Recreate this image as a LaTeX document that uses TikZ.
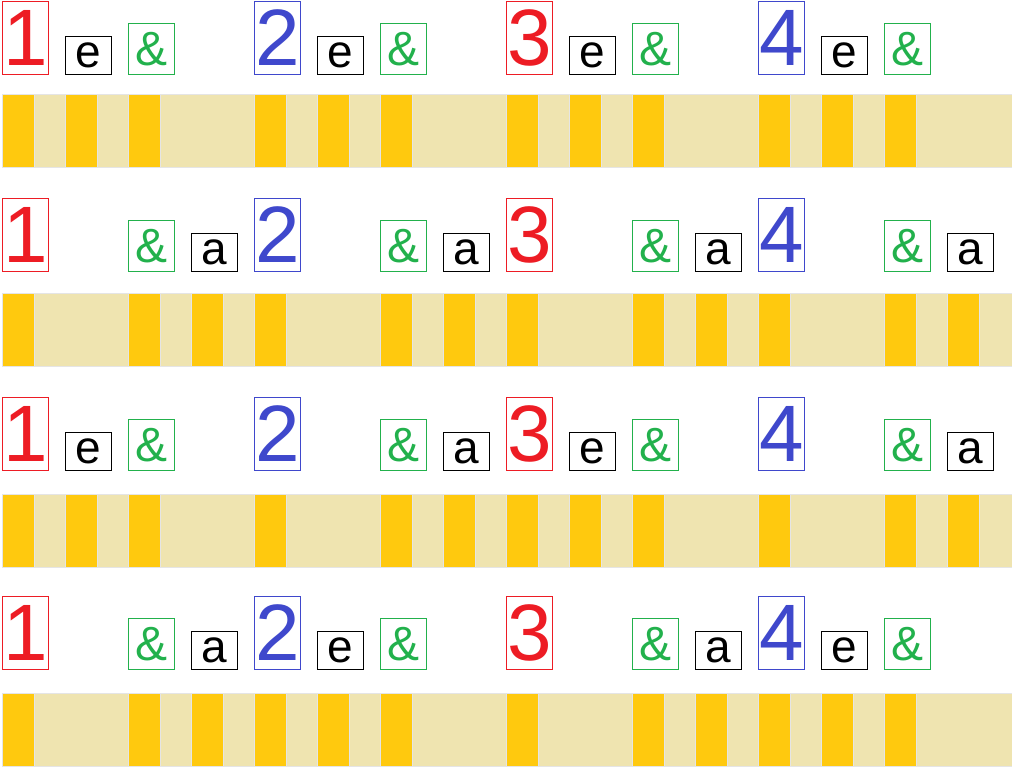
\documentclass[tikz,border=0pt]{standalone}
\usepackage{fontspec}
\setmainfont{Liberation Sans}
\usetikzlibrary{positioning}

\definecolor{beatred}{HTML}{ED1C24}
\definecolor{beatblue}{HTML}{3F48CC}
\definecolor{andgreen}{HTML}{22B14C}
\definecolor{hitorange}{HTML}{FFC90E}
\definecolor{stripbeige}{HTML}{EFE4B0}

\tikzset{
  numbox/.style={draw, text centered, inner sep=0pt, line width=0.9pt, minimum width=46pt, minimum height=73pt, anchor=south west, font=\fontsize{80}{80}\selectfont},
  subbox/.style={draw, text centered, inner sep=0pt, line width=0.9pt, minimum width=46pt, minimum height=38pt, anchor=south west, font=\fontsize{46}{46}\selectfont},
  andbox/.style={draw=andgreen, text=andgreen, text centered, inner sep=0pt, line width=0.9pt, minimum width=46pt, minimum height=51pt, anchor=south west, font=\fontsize{48}{48}\selectfont},
  strip/.style={draw=gray!20, fill=stripbeige, line width=0.8pt},
  hit/.style={draw=gray!20, fill=hitorange, line width=0.8pt, inner sep=0pt, minimum width=32pt, minimum height=73pt, anchor=north west}
}

\begin{document}
\begin{tikzpicture}[x=1pt, y=-1pt]
\useasboundingbox (0,0) rectangle (1012,769);

%strips
\draw[strip] (2,94) rectangle (1014,167);
\draw[strip] (2,293) rectangle (1014,366);
\draw[strip] (2,494) rectangle (1014,567);
\draw[strip] (2,693) rectangle (1014,766);

%row 1
\foreach \b/\c/\s/\o in {1/beatred/e/63, 2/beatblue/e/63, 3/beatred/e/63, 4/beatblue/e/63}{
  \pgfmathsetmacro\x{2+252*(\b-1)}
  \node[numbox, draw=\c, text=\c] (n1\b) at (\x,75) {\b};
  \node[subbox] (s1\b) at (\x+\o,75) {\s};
  \node[andbox] (and1\b) at (\x+126,75) {\&};
  \node[hit] (hn1\b) at (\x,94) {};
  \node[hit] (hs1\b) at (\x+\o,94) {};
  \node[hit] (hand1\b) at (\x+126,94) {};
}

%row 2
\foreach \b/\c/\s/\o in {1/beatred/a/189, 2/beatblue/a/189, 3/beatred/a/189, 4/beatblue/a/189}{
  \pgfmathsetmacro\x{2+252*(\b-1)}
  \node[numbox, draw=\c, text=\c] (n2\b) at (\x,272) {\b};
  \node[subbox] (s2\b) at (\x+\o,272) {\s};
  \node[andbox] (and2\b) at (\x+126,272) {\&};
  \node[hit] (hn2\b) at (\x,293) {};
  \node[hit] (hs2\b) at (\x+\o,293) {};
  \node[hit] (hand2\b) at (\x+126,293) {};
}

%row 3
\foreach \b/\c/\s/\o in {1/beatred/e/63, 2/beatblue/a/189, 3/beatred/e/63, 4/beatblue/a/189}{
  \pgfmathsetmacro\x{2+252*(\b-1)}
  \node[numbox, draw=\c, text=\c] (n3\b) at (\x,471) {\b};
  \node[subbox] (s3\b) at (\x+\o,471) {\s};
  \node[andbox] (and3\b) at (\x+126,471) {\&};
  \node[hit] (hn3\b) at (\x,494) {};
  \node[hit] (hs3\b) at (\x+\o,494) {};
  \node[hit] (hand3\b) at (\x+126,494) {};
}

%row 4
\foreach \b/\c/\s/\o in {1/beatred/a/189, 2/beatblue/e/63, 3/beatred/a/189, 4/beatblue/e/63}{
  \pgfmathsetmacro\x{2+252*(\b-1)}
  \node[numbox, draw=\c, text=\c] (n4\b) at (\x,670) {\b};
  \node[subbox] (s4\b) at (\x+\o,670) {\s};
  \node[andbox] (and4\b) at (\x+126,670) {\&};
  \node[hit] (hn4\b) at (\x,693) {};
  \node[hit] (hs4\b) at (\x+\o,693) {};
  \node[hit] (hand4\b) at (\x+126,693) {};
}

\end{tikzpicture}
\end{document}
